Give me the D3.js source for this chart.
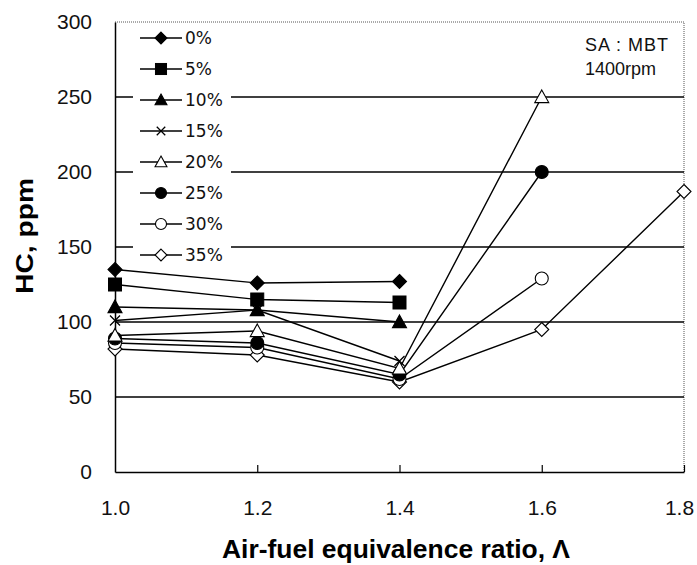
<!DOCTYPE html>
<html>
<head>
<meta charset="utf-8">
<script src="https://cdn.jsdelivr.net/npm/d3@7"></script>
<style>
  body { margin: 0; background: #fff; }
  svg { display: block; font-family: "Liberation Sans", Arial, sans-serif; }
</style>
</head>
<body>
<svg id="chart" width="697" height="565"></svg>
<script>
const lambdas = [1.0, 1.2, 1.4, 1.6, 1.8];
const seriesNames = ["0%", "5%", "10%", "15%", "20%", "25%", "30%", "35%"];
const symbols = ["diamond", "square", "triangle", "cross", "triangleOpen", "circle", "circleOpen", "diamondOpen"];

const hc0 = [135, 126, 127];
const hc5 = [125, 115, 113];
const hc10 = [110, 108, 100];
const hc15 = [101, 108, 74];
const hc20 = [91, 94, 69, 250];
const hc25 = [89, 86, 65, 200];
const hc30 = [86, 83, 62, 129];
const hc35 = [82, 78, 60, 95, 187];

const yTicks = [0, 50, 100, 150, 200, 250, 300];
const xTicks = [1.0, 1.2, 1.4, 1.6, 1.8];

const allSeries = [hc0, hc5, hc10, hc15, hc20, hc25, hc30, hc35];

const svg = d3.select("#chart");
const margin = { left: 115, right: 13, top: 22, bottom: 93 };
const width = 697 - margin.left - margin.right;
const height = 565 - margin.top - margin.bottom;

const x = d3.scaleLinear().domain([1.0, 1.8]).range([0, width]);
const y = d3.scaleLinear().domain([0, 300]).range([height, 0]);

const g = svg.append("g").attr("transform", `translate(${margin.left},${margin.top})`);

// dotted frame top/right
g.append("path")
  .attr("d", `M0,0H${width}V${height}`)
  .attr("fill", "none")
  .attr("stroke", "#555")
  .attr("stroke-width", 1)
  .attr("stroke-dasharray", "1,1");

// gridlines
g.selectAll(".grid")
  .data(yTicks.filter(d => d > 0 && d < 300))
  .enter()
  .append("line")
  .attr("x1", 0)
  .attr("x2", width)
  .attr("y1", d => y(d))
  .attr("y2", d => y(d))
  .attr("stroke", "#000")
  .attr("stroke-width", 1.5);

// y axis
const yAxis = g.append("g").call(d3.axisLeft(y).tickValues(yTicks).tickSize(0).tickPadding(23));
yAxis.select(".domain").attr("stroke", "#000").attr("stroke-width", 1.5);
yAxis.selectAll("text").attr("font-size", 21).attr("fill", "#111").attr("font-family", "Liberation Sans, Arial, sans-serif");

// x axis with inward ticks
const xAxis = g.append("g")
  .attr("transform", `translate(0,${height})`)
  .call(d3.axisBottom(x).tickValues(xTicks).tickFormat(d3.format(".1f")).tickSize(0).tickPadding(28));
xAxis.select(".domain").attr("stroke", "#000").attr("stroke-width", 1.5);
xAxis.selectAll("text")
  .attr("font-size", 21)
  .attr("fill", "#111")
  .attr("font-family", "Liberation Sans, Arial, sans-serif")
  .attr("dx", d => d === 1.8 ? -5 : 0);
xAxis.selectAll(".tick line")
  .attr("y2", d => d === 1.0 ? 0 : -7)
  .attr("stroke", "#000")
  .attr("stroke-width", 1.2);

// axis titles
svg.append("text")
  .attr("x", 396)
  .attr("y", 558)
  .attr("text-anchor", "middle")
  .attr("font-size", 26)
  .attr("font-weight", "bold")
  .attr("textLength", 348)
  .attr("lengthAdjust", "spacingAndGlyphs")
  .text("Air-fuel equivalence ratio, Λ");

svg.append("text")
  .attr("transform", "translate(33,236) rotate(-90)")
  .attr("text-anchor", "middle")
  .attr("font-size", 24)
  .attr("font-weight", "bold")
  .attr("textLength", 116)
  .attr("lengthAdjust", "spacingAndGlyphs")
  .text("HC, ppm");

// marker drawing
function drawMarker(sel, type, cx, cy, scale) {
  const s = scale || 1;
  const filled = !type.endsWith("Open");
  const fill = filled ? "#000" : "#fff";
  const base = type.replace("Open", "");
  if (base === "diamond") {
    const r = 7 * s;
    sel.append("path")
      .attr("d", `M${cx},${cy - r}L${cx + r},${cy}L${cx},${cy + r}L${cx - r},${cy}Z`)
      .attr("fill", fill).attr("stroke", "#000").attr("stroke-width", 1.1);
  } else if (base === "square") {
    const r = 6.5 * s;
    sel.append("rect")
      .attr("x", cx - r).attr("y", cy - r).attr("width", 2 * r).attr("height", 2 * r)
      .attr("fill", fill).attr("stroke", "#000").attr("stroke-width", 1);
  } else if (base === "triangle") {
    const r = 7 * s;
    sel.append("path")
      .attr("d", `M${cx},${cy - r}L${cx + r},${cy + r * 0.8}L${cx - r},${cy + r * 0.8}Z`)
      .attr("fill", fill).attr("stroke", "#000").attr("stroke-width", 1.1);
  } else if (base === "cross") {
    const r = 5 * s;
    sel.append("path")
      .attr("d", `M${cx - r},${cy - r}L${cx + r},${cy + r}M${cx - r},${cy + r}L${cx + r},${cy - r}`)
      .attr("stroke", "#000").attr("stroke-width", 1.3);
  } else if (base === "circle") {
    sel.append("circle")
      .attr("cx", cx).attr("cy", cy).attr("r", 6.5 * s)
      .attr("fill", fill).attr("stroke", "#000").attr("stroke-width", 1.1);
  }
}

const line = d3.line()
  .x((d, i) => x(lambdas[i]))
  .y(d => y(d));

const plot = g.append("g");

allSeries.forEach(vals => {
  plot.append("path")
    .datum(vals)
    .attr("d", line)
    .attr("fill", "none")
    .attr("stroke", "#000")
    .attr("stroke-width", 1.4);
});

// markers, lower series drawn first so upper ones sit on top
allSeries.slice().reverse().forEach((vals, rk) => {
  const k = allSeries.length - 1 - rk;
  vals.forEach((v, i) => drawMarker(plot, symbols[k], x(lambdas[i]), y(v)));
});

// legend
const legend = svg.append("g");
legend.append("rect")
  .attr("x", 133).attr("y", 23).attr("width", 98).attr("height", 243)
  .attr("fill", "#fff");

seriesNames.forEach((name, k) => {
  const ly = 38 + k * 31;
  legend.append("line")
    .attr("x1", 140).attr("x2", 182)
    .attr("y1", ly).attr("y2", ly)
    .attr("stroke", "#000").attr("stroke-width", 1.4);
  drawMarker(legend, symbols[k], 161, ly, 0.85);
  legend.append("text")
    .attr("x", 185).attr("y", ly + 6)
    .attr("font-size", 17)
    .attr("font-family", "DejaVu Sans, sans-serif")
    .attr("fill", "#111")
    .text(name);
});

// annotation
svg.append("text").attr("x", 585).attr("y", 51).attr("font-size", 18).attr("fill", "#111")
  .attr("textLength", 83).attr("lengthAdjust", "spacing").text("SA : MBT");
svg.append("text").attr("x", 585).attr("y", 75).attr("font-size", 18).attr("fill", "#111")
  .text("1400rpm");
</script>
</body>
</html>
